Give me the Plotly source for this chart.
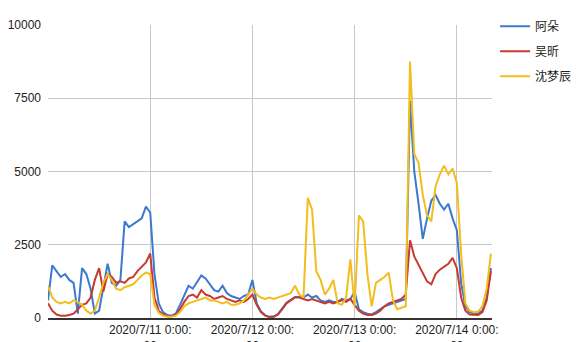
import pandas as pd
import plotly.graph_objects as go

# hourly samples starting 2020/7/10 00:00
start_time = "2020-07-10 00:00"
series_names = ["阿朵", "吴昕", "沈梦辰"]

a_duo = [600,1800,1600,1400,1500,1300,1200,150,1700,1500,1000,150,250,1000,1850,1200,1100,1300,3300,3100,3200,3300,3400,3800,3600,
         1500,500,200,100,80,150,450,800,1100,1000,1250,1450,1350,1150,950,900,1100,850,750,700,650,750,800,1300,
         500,220,90,40,50,130,320,520,620,720,720,700,800,700,750,600,550,600,550,550,650,600,650,900,
         300,200,150,120,200,300,400,450,500,550,600,650,7400,5000,3900,2700,3400,4000,4200,3900,3700,3900,3400,3000,1200,400,200,150,150,250,700,1700]

wu_xin = [500,250,120,80,80,100,150,300,450,500,700,1300,1700,900,1500,1400,1200,1250,1200,1350,1400,1600,1750,1900,2200,
          700,250,120,70,60,100,300,550,750,800,700,950,800,750,650,700,750,650,600,550,600,550,650,800,
          450,200,80,30,40,120,300,500,600,700,700,650,600,650,600,550,500,550,500,550,600,550,650,450,
          250,150,100,100,150,250,400,500,550,600,650,800,2650,2100,1800,1500,1250,1150,1500,1650,1750,1850,2050,1700,700,250,120,100,100,200,600,1600]

shen_mengchen = [1100,700,550,500,550,500,600,550,450,250,150,250,700,1200,1500,1300,1000,950,1050,1100,1150,1300,1450,1550,1500,
                 450,180,80,40,40,80,200,400,500,550,600,650,700,600,600,550,500,550,450,450,500,600,800,1000,
                 800,700,650,700,650,700,750,800,850,1100,800,700,4100,3700,1600,1300,800,1000,1300,500,450,700,2000,400,
                 3500,3300,1500,400,1200,1300,1400,1550,600,300,350,400,8750,5600,5300,4200,3500,3300,4500,4900,5200,4900,5100,4600,2200,500,250,200,220,400,1000,2200]

tick_dates = ["2020-07-11", "2020-07-12", "2020-07-13", "2020-07-14"]
tick_labels = ["2020/7/11 0:00:<br>00", "2020/7/12 0:00:<br>00", "2020/7/13 0:00:<br>00", "2020/7/14 0:00:<br>00"]
y_ticks = [0, 2500, 5000, 7500, 10000]

times = pd.date_range(start_time, periods=len(a_duo), freq="h")
colors = ["#3b78d0", "#c73a2e", "#f2bd1d"]

fig = go.Figure()
for name, vals, col in zip(series_names, [a_duo, wu_xin, shen_mengchen], colors):
    fig.add_trace(go.Scatter(x=times, y=vals, mode="lines", name=name, legendgroup=name,
                             line=dict(color=col, width=2)))

FONT = "Arial, 'Liberation Sans', 'Noto Sans CJK SC', sans-serif"
fig.update_layout(
    width=576, height=342,
    margin=dict(l=48, r=84, t=25, b=24, autoexpand=False),
    paper_bgcolor="white", plot_bgcolor="white",
    font=dict(family=FONT, size=12, color="#222"),
    showlegend=True,
    legend=dict(x=1.007, xanchor="left", y=1.045, yanchor="top", tracegroupgap=6,
                font=dict(size=12, color="#222"), bgcolor="rgba(0,0,0,0)"),
)
fig.update_xaxes(
    range=[pd.Timestamp("2020-07-10 00:00"), pd.Timestamp("2020-07-14 08:15")],
    tickvals=[pd.Timestamp(d) for d in tick_dates], ticktext=tick_labels,
    showgrid=True, gridcolor="#c8c8c8", gridwidth=1,
    showline=True, linecolor="#333", linewidth=1.5,
    zeroline=False, ticks="", tickangle=0, automargin=False,
)
fig.update_yaxes(
    range=[0, 10000], tickvals=y_ticks, ticktext=[str(v) for v in y_ticks],
    showgrid=True, gridcolor="#c8c8c8", gridwidth=1,
    zeroline=False, showline=False, ticks="", ticklabelstandoff=6, automargin=False,
)
fig.write_html("out.html")
